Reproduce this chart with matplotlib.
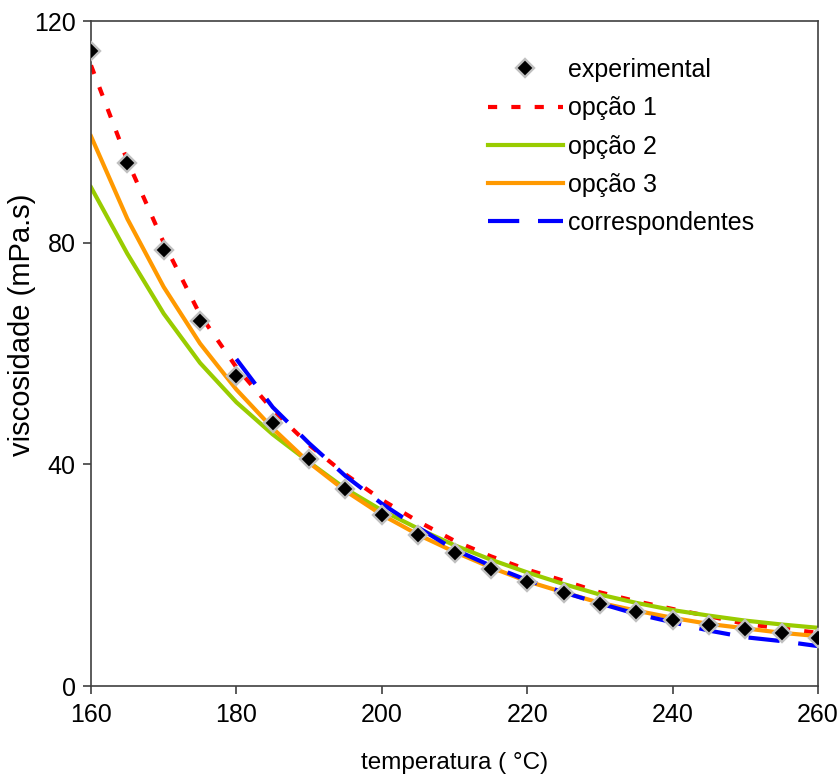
import matplotlib
matplotlib.use("Agg")
import matplotlib.pyplot as plt

plt.rcParams["font.family"] = ["Liberation Sans", "DejaVu Sans"]

# temperature (°C)
temp = [160, 165, 170, 175, 180, 185, 190, 195, 200, 205, 210,
        215, 220, 225, 230, 235, 240, 245, 250, 255, 260]

experimental = [114.5, 94.4, 78.7, 65.8, 55.9, 47.4, 41.0, 35.5, 30.9, 27.2, 24.0,
                21.1, 18.7, 16.8, 14.8, 13.4, 12.0, 11.0, 10.3, 9.6, 8.7]
opcao1 = [112.0, 94.8, 80.0, 67.0, 57.5, 49.8, 43.5, 38.2, 33.6, 29.7, 26.2,
          23.4, 21.0, 19.0, 16.9, 15.3, 13.9, 12.6, 11.2, 10.4, 9.6]
opcao2 = [90.0, 78.0, 67.2, 58.3, 51.2, 45.4, 40.4, 35.6, 31.7, 28.4, 25.4,
          22.8, 20.5, 18.4, 16.5, 15.0, 13.7, 12.7, 11.8, 11.1, 10.5]
opcao3 = [99.2, 84.3, 72.0, 61.8, 53.5, 46.5, 40.3, 35.2, 30.9, 27.3, 24.2,
          21.4, 18.9, 16.9, 15.0, 13.6, 12.3, 11.2, 10.4, 9.6, 9.0]
temp_corr = [180, 185, 190, 195, 200, 205, 210, 215, 220, 225, 230, 235, 240, 245, 250, 255, 260]
correspondentes = [59.0, 50.3, 43.8, 37.9, 32.9, 28.6, 24.6, 21.7, 19.1, 16.9, 14.9,
                   13.0, 11.5, 10.0, 8.8, 8.1, 7.2]

fig = plt.figure(figsize=(8.4, 7.78), dpi=100)
ax = fig.add_axes([91 / 840, 1 - 686 / 778, 727 / 840, 665 / 778])

ax.plot(temp, experimental, linestyle="none", marker="D", markersize=9.5,
        markerfacecolor="black", markeredgecolor="#c0c0c0", markeredgewidth=1.7,
        label="experimental", zorder=5)
ax.plot(temp, opcao1, color="#ff0000", lw=3, linestyle=(0, (2.2, 3.4)), label="opção 1")
ax.plot(temp, opcao2, color="#99cc00", lw=3, label="opção 2")
ax.plot(temp, opcao3, color="#ff9900", lw=3, label="opção 3")
ax.plot(temp_corr, correspondentes, color="#0000ff", lw=3, linestyle=(0, (7.5, 4.5)),
        label="correspondentes")

ax.set_xlim(160, 260)
ax.set_ylim(0, 120)
ax.set_xticks([160, 180, 200, 220, 240, 260])
ax.set_yticks([0, 40, 80, 120])
ax.tick_params(direction="out", length=6, width=1.2, color="#404040", labelsize=18)
ax.tick_params(axis="y", pad=5)
ax.tick_params(axis="x", pad=6)
for s in ax.spines.values():
    s.set_color("#404040")
    s.set_linewidth(1.2)

ax.set_xlabel("temperatura ( °C)", fontsize=17.5)
ax.xaxis.set_label_coords(0.5, -0.1)
ax.set_ylabel("viscosidade (mPa.s)", fontsize=21)
ax.yaxis.set_label_coords(-0.076, 0.543)

ax.legend(loc="upper left", bbox_to_anchor=(0.546, 0.944), frameon=False,
          fontsize=18, handlelength=3.0, handletextpad=0.2, labelspacing=0.57,
          borderpad=0, borderaxespad=0)

fig.savefig("out.png", dpi=100)
